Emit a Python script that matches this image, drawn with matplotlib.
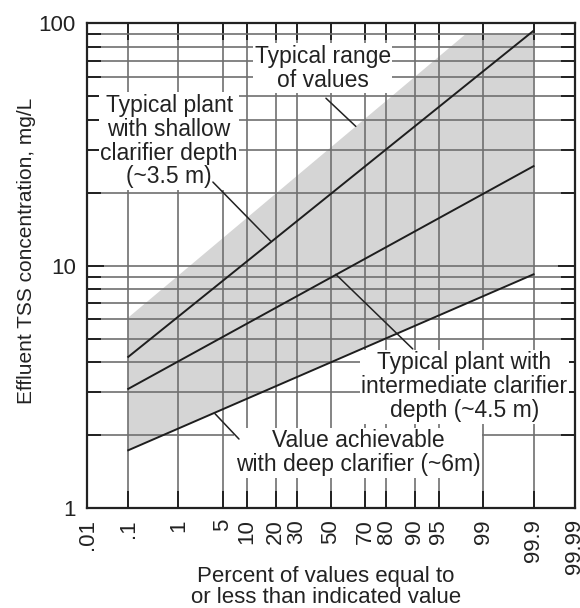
import numpy as np
import matplotlib
matplotlib.use("Agg")
import matplotlib.pyplot as plt
from matplotlib.ticker import NullFormatter, NullLocator
from statistics import NormalDist

plt.rcParams['font.family'] = ['Liberation Sans', 'DejaVu Sans']

# percent of values (probability axis)
pct_ends = [0.1, 99.9]
shallow = [4.2, 93.0]       # ~3.5 m clarifier
intermediate = [3.1, 25.7]  # ~4.5 m clarifier
deep = [1.73, 9.2]          # ~6 m clarifier

# outline of the typical range band
band_pct = [0.1, 98.0, 99.9, 99.9, 0.1]
band_val = [6.1, 90.0, 90.0, 9.2, 1.73]

xticks = [0.01, 0.1, 1, 5, 10, 20, 30, 50, 70, 80, 90, 95, 99, 99.9, 99.99]
xtick_labels = ['.01', '.1', '1', '5', '10', '20', '30', '50', '70', '80',
                '90', '95', '99', '99.9', '99.99']
yticks_major = [1, 10, 100]
yticks_minor = [2, 3, 4, 5, 6, 7, 8, 9, 20, 30, 40, 50, 60, 70, 80, 90]

nd = NormalDist()
_fwd = np.vectorize(lambda v: nd.inv_cdf(v / 100.0), otypes=[float])
_inv = np.vectorize(lambda v: nd.cdf(v) * 100.0, otypes=[float])


def forward(p):
    p = np.clip(np.asarray(p, dtype=float), 1e-7, 100 - 1e-7)
    return _fwd(p)


def inverse(z):
    return _inv(np.asarray(z, dtype=float))


fig = plt.figure(figsize=(5.8, 6.08), dpi=100)
ax = fig.add_axes([0.15, 0.1645, 0.841, 0.7975])
ax.set_xscale('function', functions=(forward, inverse))
ax.set_yscale('log')
ax.set_xlim(0.01, 99.99)
ax.set_ylim(1, 100)

ax.fill(band_pct, band_val, color='#d5d5d5', lw=0, zorder=1)

gridc = '#707070'
ax.set_xticks(xticks)
ax.set_xticklabels(xtick_labels, rotation=90, fontsize=16, color='#222222')
ax.set_yticks(yticks_major)
ax.set_yticklabels(['1', '10', '100'], fontsize=16, color='#222222')
ax.set_yticks(yticks_minor, minor=True)
ax.yaxis.set_minor_formatter(NullFormatter())
ax.xaxis.set_minor_locator(NullLocator())
ax.set_axisbelow(False)
ax.grid(True, axis='x', which='major', color=gridc, lw=1.2)
ax.grid(True, axis='y', which='both', color=gridc, lw=1.2)

ax.tick_params(which='both', direction='in', top=True, right=True,
               color='#222222', width=1.4, pad=8)
ax.tick_params(which='major', length=12)
ax.tick_params(which='minor', length=10)
for s in ax.spines.values():
    s.set_linewidth(1.6)
    s.set_color('#222222')
    s.set_zorder(5)

for vals in (shallow, intermediate, deep):
    ax.plot(pct_ends, vals, color='#1e1e1e', lw=1.4, zorder=4)

box = dict(facecolor='white', edgecolor='none', pad=1.0)
txt = dict(fontsize=16.5, ha='center', va='center', multialignment='center',
           linespacing=1.05, color='#222222', bbox=box, zorder=3)
ax.text(45.1, 65.2, 'Typical range\nof values', **txt)
ax.text(0.68, 32.6, 'Typical plant\nwith shallow\nclarifier depth\n(~3.5 m)', **txt)
ax.text(97.9, 3.16, 'Typical plant with\nintermediate clarifier\ndepth (~4.5 m)', **txt)
ax.text(66.0, 1.69, 'Value achievable\nwith deep clarifier (~6m)', **txt)

lead = dict(arrowstyle='-', color='#222222', lw=1.1, shrinkA=0, shrinkB=0)
ax.annotate('', xy=(64.8, 37.5), xytext=(47.0, 49.0), arrowprops=lead, zorder=4)
ax.annotate('', xy=(18.0, 12.6), xytext=(3.6, 22.1), arrowprops=lead, zorder=4)
ax.annotate('', xy=(53.0, 9.2), xytext=(89.4, 4.53), arrowprops=lead, zorder=4)
ax.annotate('', xy=(3.85, 2.45), xytext=(8.05, 1.925), arrowprops=lead, zorder=4)

ax.set_ylabel('Effluent TSS concentration, mg/L', fontsize=15, color='#222222')
ax.yaxis.set_label_coords(-0.105, 0.53)
ax.set_xlabel('Percent of values equal to\nor less than indicated value',
              fontsize=16, color='#222222', linespacing=1.05)
ax.xaxis.set_label_coords(0.49, -0.163)
ax.xaxis.label.set_va('center')

fig.savefig('out.png', dpi=100)
